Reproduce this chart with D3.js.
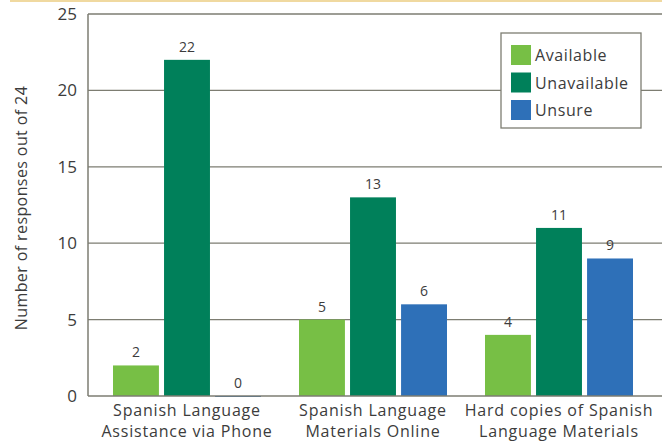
<!DOCTYPE html>
<html>
<head>
<meta charset="utf-8">
<script src="https://cdn.jsdelivr.net/npm/d3@7"></script>
<style>
  body { margin: 0; background: #fff; }
  text { font-family: "Open Sans", Lato, sans-serif; fill: #3c3c3c; }
</style>
</head>
<body>
<script>
var categories = [
  ["Spanish Language", "Assistance via Phone"],
  ["Spanish Language", "Materials Online"],
  ["Hard copies of Spanish", "Language Materials"]
];
var seriesNames = ["Available", "Unavailable", "Unsure"];
var available = [2, 5, 4];
var unavailable = [22, 13, 11];
var unsure = [0, 6, 9];
var yTicks = [0, 5, 10, 15, 20, 25];
var colors = ["#77bf45", "#00805a", "#2e70b8"];

var values = [available, unavailable, unsure];

var width = 662, height = 442;
var svg = d3.select("body").append("svg")
    .attr("width", width)
    .attr("height", height);

// thin tan strip at the very top
svg.append("rect")
    .attr("x", 10).attr("y", 0)
    .attr("width", width - 10).attr("height", 2)
    .attr("fill", "#f0d9a0");

var plotLeft = 88, plotRight = 662, plotTop = 14, plotBottom = 396;

var x0 = d3.scaleBand().domain(d3.range(categories.length)).range([94, 652]);
var x1 = d3.scaleBand().domain(d3.range(seriesNames.length))
    .range([19, x0.bandwidth() - 19]).paddingInner(0.1);
var y = d3.scaleLinear().domain([0, 25]).range([plotBottom, plotTop]);

// gridlines
svg.append("g")
  .selectAll("line")
  .data(yTicks.filter(function(d) { return d > 0; }))
  .join("line")
    .attr("x1", plotLeft).attr("x2", plotRight)
    .attr("y1", function(d) { return y(d); })
    .attr("y2", function(d) { return y(d); })
    .attr("stroke", "#7d7d72")
    .attr("stroke-width", 1.3);

// y axis labels
svg.append("g")
  .selectAll("text")
  .data(yTicks)
  .join("text")
    .attr("x", 77)
    .attr("y", function(d) { return y(d) + 6; })
    .attr("text-anchor", "end")
    .style("font-size", "17px")
    .text(function(d) { return d; });

// bars
var groups = svg.append("g")
  .selectAll("g")
  .data(categories)
  .join("g")
    .attr("transform", function(d, i) { return "translate(" + x0(i) + ",0)"; });

groups.selectAll("rect")
  .data(function(d, i) { return values.map(function(v, s) { return {s: s, v: v[i]}; }); })
  .join("rect")
    .attr("x", function(d) { return x1(d.s); })
    .attr("width", x1.bandwidth())
    .attr("y", function(d) { return y(d.v); })
    .attr("height", function(d) { return Math.max(y(0) - y(d.v), 1); })
    .attr("fill", function(d) { return colors[d.s]; });

groups.selectAll("text.val")
  .data(function(d, i) { return values.map(function(v, s) { return {s: s, v: v[i]}; }); })
  .join("text")
    .attr("class", "val")
    .attr("x", function(d) { return x1(d.s) + x1.bandwidth() / 2; })
    .attr("y", function(d) { return y(d.v) - 8; })
    .attr("text-anchor", "middle")
    .style("font-size", "14px")
    .text(function(d) { return d.v; });

// axes lines
svg.append("line")
    .attr("x1", plotLeft).attr("x2", plotLeft)
    .attr("y1", plotTop).attr("y2", plotBottom)
    .attr("stroke", "#7d7d72").attr("stroke-width", 1.5);
svg.append("line")
    .attr("x1", plotLeft).attr("x2", plotRight)
    .attr("y1", plotBottom).attr("y2", plotBottom)
    .attr("stroke", "#7d7d72").attr("stroke-width", 1.5);

// category labels, two lines each
for (var line = 0; line < 2; line++) {
  svg.append("g")
    .selectAll("text")
    .data(categories)
    .join("text")
      .attr("text-anchor", "middle")
      .attr("x", function(d, i) { return x0(i) + x0.bandwidth() / 2; })
      .attr("y", 416 + line * 21)
      .style("font-size", "16px")
      .style("letter-spacing", "0.8px")
      .text(function(d) { return d[line]; });
}

// y axis title
svg.append("text")
    .attr("transform", "translate(27," + 208 + ") rotate(-90)")
    .attr("text-anchor", "middle")
    .style("font-size", "16px")
    .style("letter-spacing", "0.4px")
    .text("Number of responses out of 24");

// legend
var legend = svg.append("g").attr("transform", "translate(501,33)");
legend.append("rect")
    .attr("width", 140).attr("height", 95)
    .attr("fill", "#fff")
    .attr("stroke", "#7d7d72").attr("stroke-width", 1.3);
var items = legend.selectAll("g.item")
  .data(seriesNames)
  .join("g")
    .attr("class", "item")
    .attr("transform", function(d, i) { return "translate(10," + (12 + i * 27.5) + ")"; });
items.append("rect")
    .attr("width", 20).attr("height", 20)
    .attr("fill", function(d, i) { return colors[i]; });
items.append("text")
    .attr("x", 24).attr("y", 16)
    .style("font-size", "16px")
    .style("letter-spacing", "0.6px")
    .text(function(d) { return d; });
</script>
</body>
</html>
